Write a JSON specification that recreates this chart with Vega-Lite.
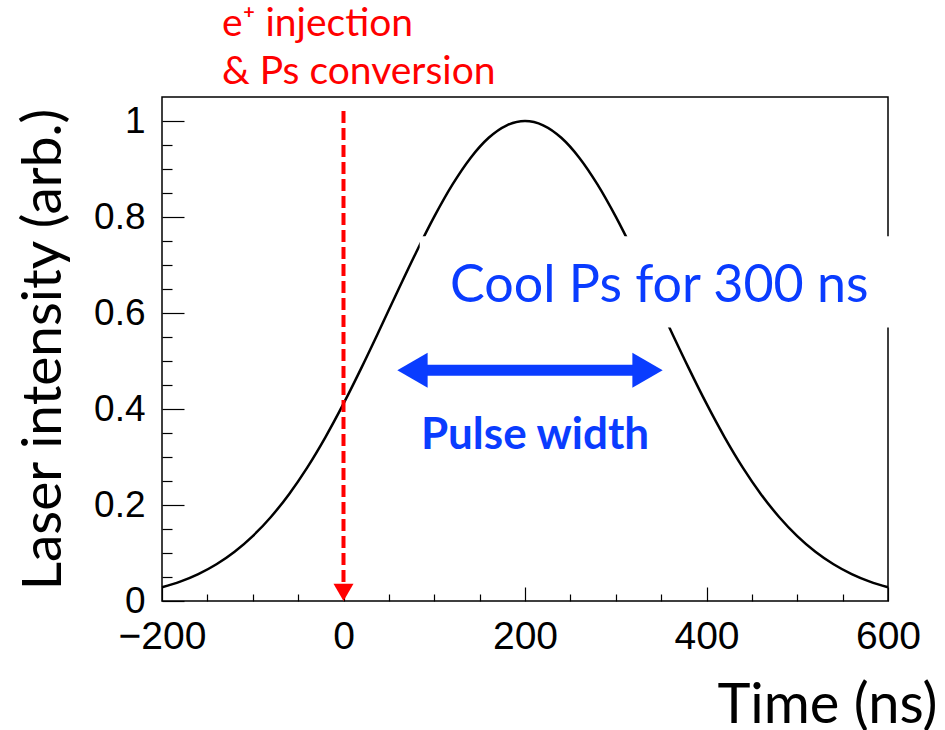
{
  "$schema": "https://vega.github.io/schema/vega-lite/v6.json",
  "width": 726,
  "height": 504,
  "autosize": {"type": "none"},
  "padding": {"left": 162, "top": 97, "right": 57, "bottom": 129},
  "background": "white",
  "config": {
    "view": {"stroke": "#000", "strokeWidth": 1.5},
    "axis": {"grid": false, "domain": false}
  },
  "datasets": {
    "curve": [
      {"t": -200, "v": 0.0286}, {"t": -180, "v": 0.0404}, {"t": -160, "v": 0.0561}, {"t": -140, "v": 0.0766},
      {"t": -120, "v": 0.1027}, {"t": -100, "v": 0.1353}, {"t": -80, "v": 0.1751}, {"t": -60, "v": 0.2226},
      {"t": -40, "v": 0.2780}, {"t": -20, "v": 0.3411}, {"t": 0, "v": 0.4111}, {"t": 20, "v": 0.4868},
      {"t": 40, "v": 0.5661}, {"t": 60, "v": 0.6469}, {"t": 80, "v": 0.7261}, {"t": 100, "v": 0.8007},
      {"t": 120, "v": 0.8674}, {"t": 140, "v": 0.9231}, {"t": 160, "v": 0.9651}, {"t": 180, "v": 0.9911},
      {"t": 200, "v": 1.0},
      {"t": 220, "v": 0.9911}, {"t": 240, "v": 0.9651}, {"t": 260, "v": 0.9231}, {"t": 280, "v": 0.8674},
      {"t": 300, "v": 0.8007}, {"t": 320, "v": 0.7261}, {"t": 340, "v": 0.6469}, {"t": 360, "v": 0.5661},
      {"t": 380, "v": 0.4868}, {"t": 400, "v": 0.4111}, {"t": 420, "v": 0.3411}, {"t": 440, "v": 0.2780},
      {"t": 460, "v": 0.2226}, {"t": 480, "v": 0.1751}, {"t": 500, "v": 0.1353}, {"t": 520, "v": 0.1027},
      {"t": 540, "v": 0.0766}, {"t": 560, "v": 0.0561}, {"t": 580, "v": 0.0404}, {"t": 600, "v": 0.0286}
    ],
    "injection": [{"t": 0, "v": 1.021, "v2": 0.036}],
    "injhead": [{"t": 0, "v": 0.018}],
    "box": [{"t": 84, "t2": 662, "v": 0.57, "v2": 0.76}],
    "shaft": [{"t": 76, "t2": 335, "v": 0.4807}],
    "heads": [{"t": 76, "v": 0.4807, "dir": "left"}, {"t": 335, "v": 0.4807, "dir": "right"}],
    "redtext": [{"t": -134, "v": 1.178, "label": "e⁺ injection"}, {"t": -134, "v": 1.077, "label": "& Ps conversion"}],
    "cool": [{"t": 348, "v": 0.6225, "label": "Cool Ps for 300 ns"}],
    "pulse": [{"t": 211, "v": 0.316, "label": "Pulse width"}]
  },
  "layer": [
    {
      "data": {"name": "curve"},
      "mark": {"type": "line", "color": "#000", "strokeWidth": 2.5, "interpolate": "monotone"},
      "encoding": {
        "x": {"field": "t", "type": "quantitative", "scale": {"domain": [-200, 600], "nice": false, "zero": false},
          "axis": {"orient": "bottom", "values": [-200, 0, 200, 400, 600], "ticks": false, "tickSize": 0, "domain": false,
            "labelFont": "Liberation Sans", "labelFontSize": 39, "labelColor": "#000", "labelPadding": 16,
            "labelFlush": false, "labelOverlap": false,
            "title": "Time (ns)", "titleFont": "Lato", "titleFontSize": 56, "titleFontWeight": "normal", "titleColor": "#000",
            "titleAnchor": "end", "titleAlign": "right", "titleBaseline": "alphabetic", "titleX": 775, "titleY": 121}},
        "y": {"field": "v", "type": "quantitative", "scale": {"domain": [0, 1.05], "nice": false, "zero": false},
          "axis": {"orient": "left", "values": [0, 0.2, 0.4, 0.6, 0.8, 1], "format": "~g", "ticks": false, "tickSize": 0, "domain": false,
            "labelFont": "Liberation Sans", "labelFontSize": 37, "labelColor": "#000", "labelPadding": 17,
            "labelFlush": false, "labelOverlap": false,
            "title": "Laser intensity (arb.)", "titleFont": "Lato", "titleFontSize": 55, "titleFontWeight": "normal", "titleColor": "#000",
            "titleAngle": 270, "titleAlign": "center", "titleBaseline": "alphabetic", "titleX": -102, "titleY": 252}}
      }
    },
    {
      "data": {"name": "injection"},
      "mark": {"type": "rule", "color": "#ff0000", "strokeWidth": 4, "strokeDash": [12, 5]},
      "encoding": {
        "x": {"field": "t", "type": "quantitative", "scale": {"domain": [-200, 600], "nice": false, "zero": false},
          "axis": {"orient": "bottom", "values": [-200, 0, 200, 400, 600], "labels": false, "ticks": true, "tickSize": -14,
            "tickColor": "#000", "tickWidth": 1.2, "domain": false, "title": null}},
        "y": {"field": "v", "type": "quantitative", "scale": {"domain": [0, 1.05], "nice": false, "zero": false},
          "axis": {"orient": "left", "values": [0, 0.2, 0.4, 0.6, 0.8, 1], "labels": false, "ticks": true, "tickSize": -22,
            "tickColor": "#000", "tickWidth": 1.2, "domain": false, "title": null}},
        "y2": {"field": "v2"}
      }
    },
    {
      "data": {"name": "injhead"},
      "mark": {"type": "point", "shape": "triangle-down", "filled": true, "opacity": 1, "color": "#ff0000", "size": 400, "strokeWidth": 0},
      "encoding": {
        "x": {"field": "t", "type": "quantitative", "scale": {"domain": [-200, 600], "nice": false, "zero": false},
          "axis": {"orient": "bottom", "values": [-150, -100, -50, 50, 100, 150, 250, 300, 350, 450, 500, 550], "labels": false, "ticks": true, "tickSize": -7,
            "tickColor": "#000", "tickWidth": 1.2, "domain": false, "title": null}},
        "y": {"field": "v", "type": "quantitative", "scale": {"domain": [0, 1.05], "nice": false, "zero": false},
          "axis": {"orient": "left", "values": [0.05, 0.1, 0.15, 0.25, 0.3, 0.35, 0.45, 0.5, 0.55, 0.65, 0.7, 0.75, 0.85, 0.9, 0.95], "labels": false, "ticks": true, "tickSize": -10,
            "tickColor": "#000", "tickWidth": 1.2, "domain": false, "title": null}}
      }
    },
    {
      "data": {"name": "box"},
      "mark": {"type": "rect", "color": "#ffffff", "opacity": 1},
      "encoding": {
        "x": {"field": "t", "type": "quantitative", "scale": {"domain": [-200, 600], "nice": false, "zero": false}, "axis": null},
        "x2": {"field": "t2"},
        "y": {"field": "v", "type": "quantitative", "scale": {"domain": [0, 1.05], "nice": false, "zero": false}, "axis": null},
        "y2": {"field": "v2"}
      }
    },
    {
      "data": {"name": "shaft"},
      "mark": {"type": "rule", "color": "#0a3cff", "strokeWidth": 11},
      "encoding": {
        "x": {"field": "t", "type": "quantitative", "scale": {"domain": [-200, 600], "nice": false, "zero": false}, "axis": null},
        "x2": {"field": "t2"},
        "y": {"field": "v", "type": "quantitative", "scale": {"domain": [0, 1.05], "nice": false, "zero": false}, "axis": null}
      }
    },
    {
      "data": {"name": "heads"},
      "mark": {"type": "point", "filled": true, "opacity": 1, "color": "#0a3cff", "size": 1225, "strokeWidth": 0},
      "encoding": {
        "x": {"field": "t", "type": "quantitative", "scale": {"domain": [-200, 600], "nice": false, "zero": false}, "axis": null},
        "y": {"field": "v", "type": "quantitative", "scale": {"domain": [0, 1.05], "nice": false, "zero": false}, "axis": null},
        "shape": {"field": "dir", "type": "nominal", "scale": {"domain": ["left", "right"], "range": ["triangle-left", "triangle-right"]}, "legend": null}
      }
    },
    {
      "data": {"name": "redtext"},
      "mark": {"type": "text", "font": "Lato", "fontSize": 39, "color": "#ff0000", "align": "left", "baseline": "alphabetic"},
      "encoding": {
        "x": {"field": "t", "type": "quantitative", "scale": {"domain": [-200, 600], "nice": false, "zero": false}, "axis": null},
        "y": {"field": "v", "type": "quantitative", "scale": {"domain": [0, 1.05], "nice": false, "zero": false}, "axis": null},
        "text": {"field": "label"}
      }
    },
    {
      "data": {"name": "cool"},
      "mark": {"type": "text", "font": "Lato", "fontSize": 52, "color": "#0a3cff", "align": "center", "baseline": "alphabetic"},
      "encoding": {
        "x": {"field": "t", "type": "quantitative", "scale": {"domain": [-200, 600], "nice": false, "zero": false}, "axis": null},
        "y": {"field": "v", "type": "quantitative", "scale": {"domain": [0, 1.05], "nice": false, "zero": false}, "axis": null},
        "text": {"field": "label"}
      }
    },
    {
      "data": {"name": "pulse"},
      "mark": {"type": "text", "font": "Lato", "fontSize": 44, "fontWeight": "bold", "color": "#0a3cff", "align": "center", "baseline": "alphabetic"},
      "encoding": {
        "x": {"field": "t", "type": "quantitative", "scale": {"domain": [-200, 600], "nice": false, "zero": false}, "axis": null},
        "y": {"field": "v", "type": "quantitative", "scale": {"domain": [0, 1.05], "nice": false, "zero": false}, "axis": null},
        "text": {"field": "label"}
      }
    }
  ],
  "resolve": {"axis": {"x": "independent", "y": "independent"}}
}
